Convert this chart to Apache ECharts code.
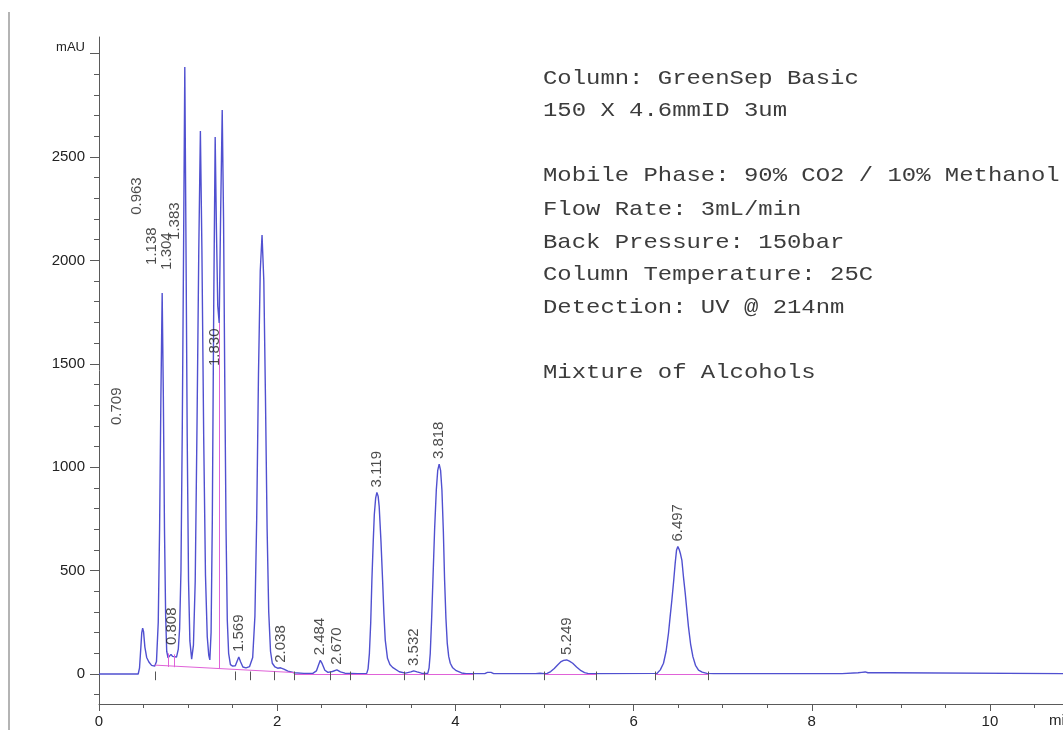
<!DOCTYPE html>
<html>
<head>
<meta charset="utf-8">
<title>Mixture of Alcohols – SFC chromatogram</title>
<script src="https://cdn.jsdelivr.net/npm/echarts@6/dist/echarts.min.js"></script>
<style>
  html, body { margin: 0; padding: 0; background: #ffffff; }
  #chart { width: 1063px; height: 730px; }
</style>
</head>
<body>
<div id="chart"></div>
<script>
// Detector trace, [retention time (min), signal (mAU)]; peak apexes come from the peak table below
const trace = [
  [0, 0], [0.44, 0], [0.455, 30], [0.47, 130], [0.48, 200], [0.49, 222], [0.50, 205], [0.515, 130],
  [0.535, 80], [0.56, 58], [0.59, 42], [0.625, 38], [0.645, 60],
  [0.665, 250], [0.68, 700], [0.695, 1350], [0.722, 1350], [0.735, 700], [0.748, 280], [0.76, 110], [0.775, 78],
  [0.79, 82], [0.825, 85], [0.845, 78], [0.87, 82], [0.89, 120], [0.905, 220],
  [0.92, 500], [0.935, 1200], [0.95, 2100], [0.976, 2100], [0.99, 1150], [1.005, 450], [1.02, 160], [1.04, 72],
  [1.06, 140], [1.08, 450], [1.10, 1200], [1.12, 2050], [1.155, 2050], [1.175, 1150], [1.195, 480],
  [1.215, 180], [1.232, 90], [1.244, 68],
  [1.258, 200], [1.272, 750], [1.288, 1800], [1.318, 2150], [1.333, 1780], [1.349, 1697], [1.366, 2250],
  [1.398, 2200], [1.412, 1400], [1.426, 700], [1.44, 260], [1.455, 100], [1.475, 45], [1.50, 38], [1.53, 40],
  [1.55, 62], [1.59, 58], [1.615, 34], [1.65, 30], [1.69, 36], [1.725, 80], [1.75, 280], [1.77, 750],
  [1.79, 1450], [1.81, 1950], [1.85, 1900], [1.868, 1350], [1.887, 700], [1.905, 300], [1.925, 110],
  [1.945, 52], [1.975, 34], [2.005, 28], [2.075, 24], [2.12, 14], [2.19, 6], [2.3, 3],
  [2.40, 3], [2.44, 15], [2.465, 45], [2.505, 50], [2.535, 18], [2.57, 8], [2.62, 12], [2.71, 10], [2.76, 4], [2.9, 2],
  [3.005, 3], [3.02, 25], [3.035, 100], [3.05, 250], [3.063, 455], [3.078, 640], [3.09, 770], [3.105, 850],
  [3.133, 860], [3.145, 809], [3.165, 640], [3.183, 455], [3.198, 290], [3.213, 164],
  [3.238, 76], [3.265, 46], [3.295, 32], [3.37, 11], [3.44, 4], [3.50, 10], [3.57, 10], [3.62, 4],
  [3.69, 3], [3.705, 30], [3.718, 100], [3.733, 260], [3.748, 455], [3.767, 700], [3.786, 890], [3.802, 985],
  [3.834, 985], [3.849, 890], [3.865, 690], [3.879, 455], [3.894, 270], [3.909, 148],
  [3.925, 85], [3.943, 52], [3.97, 30], [4.01, 16], [4.07, 5], [4.12, 2],
  [4.33, 2], [4.36, 8], [4.40, 8], [4.43, 2], [4.9, 2], [4.95, 4], [5.0, 2],
  [5.03, 3], [5.07, 12], [5.11, 27], [5.15, 45], [5.187, 60], [5.215, 66], [5.28, 62], [5.317, 52],
  [5.36, 34], [5.41, 16], [5.45, 7], [5.486, 3], [5.55, 2],
  [6.262, 3], [6.30, 20], [6.336, 52], [6.365, 110], [6.392, 197], [6.41, 275], [6.43, 358], [6.45, 450],
  [6.467, 535], [6.482, 598], [6.512, 602], [6.527, 580], [6.542, 551], [6.56, 470], [6.58, 390],
  [6.60, 300], [6.616, 229], [6.64, 145], [6.666, 84], [6.695, 42], [6.729, 19], [6.77, 9], [6.823, 3], [6.9, 2],
  [8.34, 2], [8.36, 6], [8.52, 6], [8.53, 10], [8.56, 8], [8.6, 10], [8.63, 6], [8.88, 6], [8.90, 2], [10.82, 2]
];

// Peak table: retention times (min) and apex heights (mAU)
const peakTimes   = [0.709, 0.808, 0.963, 1.138, 1.304, 1.383, 1.569, 1.830, 2.038, 2.484, 2.670, 3.119, 3.532, 3.818, 5.249, 6.497];
const peakHeights = [1842, 95, 2935, 2626, 2597, 2727, 82, 2123, 30, 66, 20, 878, 15, 1015, 68, 616];

// Crowded labels are moved off their peaks: [time, mAU] of the label's lower end
const labelMoves = {
  '0.709': [0.202, 1204],
  '0.808': [0.813, 140],
  '0.963': [0.426, 2220],
  '1.138': [0.594, 1978],
  '1.304': [0.762, 1954],
  '1.383': [0.852, 2099],
  '1.830': [1.302, 1489]
};

// Integration: peak start/end markers, baselines and drop lines
const integrationMarks = [0.628, 1.532, 1.693, 1.965, 2.19, 2.59, 2.82, 3.43, 3.655, 4.204, 5.0, 5.58, 6.244, 6.842];
const clusterBaseline = [[0.628, 43], [2.19, 7]];
const flatBaselines = [[2.19, 4.204], [5.0, 5.58], [6.244, 6.842]];
const dropLines = [[0.777, 34, 100], [0.841, 33, 95], [1.349, 24, 1697]];

// Axis ticks and labels
const xMajorTicks = [0, 2, 4, 6, 8, 10];
const xMinorTicks = [0.5, 1, 1.5, 2.5, 3, 3.5, 4.5, 5, 5.5, 6.5, 7, 7.5, 8.5, 9, 9.5, 10.5];
const yLabelValues = [0, 500, 1000, 1500, 2000, 2500];
const yMajorTicks = [0, 500, 1000, 1500, 2000, 2500, 3000];
const yMinorTicks = [-100, 100, 200, 300, 400, 600, 700, 800, 900, 1100, 1200, 1300, 1400, 1600, 1700, 1800, 1900,
                     2100, 2200, 2300, 2400, 2600, 2700, 2800, 2900];

// Method conditions printed on the chart (null = blank line)
const infoLines = [
  'Column: GreenSep Basic',
  '150 X 4.6mmID 3um',
  null,
  'Mobile Phase: 90% CO2 / 10% Methanol',
  'Flow Rate: 3mL/min',
  'Back Pressure: 150bar',
  'Column Temperature: 25C',
  'Detection: UV @ 214nm',
  null,
  'Mixture of Alcohols'
];
const infoRowY = [78.5, 110.5, null, 175.5, 209, 242, 274.5, 307, null, 372.5];

// ---- build series data ----
const apexPoints = peakTimes.map((t, i) => [t, peakHeights[i]]);
const fullTrace = trace.concat(apexPoints).sort((a, b) => a[0] - b[0]);

const labelData = peakTimes.map((t, i) => {
  const txt = t.toFixed(3);
  const moved = labelMoves[txt];
  return {
    value: moved ? moved : [t, peakHeights[i]],
    name: txt,
    label: { distance: moved ? 0 : 5 }
  };
});

const pinkLines = [];
pinkLines.push([{ coord: clusterBaseline[0] }, { coord: clusterBaseline[1] }]);
flatBaselines.forEach(b => pinkLines.push([{ coord: [b[0], -2] }, { coord: [b[1], -2] }]));
dropLines.forEach(d => pinkLines.push([{ coord: [d[0], d[1]] }, { coord: [d[0], d[2]] }]));

const markerLines = integrationMarks.map(t => [{ coord: [t, 12] }, { coord: [t, -30] }]);

const YMIN = -145, YMAX = 3080, XMAX = 10.82;
const axisGray = '#5a5a5a';
const sans = 'Liberation Sans, Arial, sans-serif';

const chart = echarts.init(document.getElementById('chart'), null, { renderer: 'canvas' });

const graphics = [
  { type: 'line', shape: { x1: 9, y1: 12, x2: 9, y2: 730 }, style: { stroke: '#b4b4b4', lineWidth: 2 }, silent: true },
  { type: 'text', x: 85, y: 47, style: { text: 'mAU', fill: '#222', font: '13px ' + sans, align: 'right', verticalAlign: 'middle' }, silent: true },
  { type: 'text', x: 1049, y: 721, style: { text: 'min', fill: '#222', font: '15px ' + sans, align: 'left', verticalAlign: 'middle' }, silent: true }
];
infoLines.forEach((line, i) => {
  if (line === null) return;
  graphics.push({
    type: 'text', x: 543, y: infoRowY[i], scaleX: 1.15, silent: true,
    style: { text: line, fill: '#3c3c3c', font: '20.8px "Liberation Mono", "DejaVu Sans Mono", monospace', align: 'left', verticalAlign: 'middle' }
  });
});

chart.setOption({
  animation: false,
  backgroundColor: '#ffffff',
  grid: { left: 99, right: 0, top: 37, bottom: 26, containLabel: false, outerBoundsMode: 'none' },
  xAxis: [
    {
      type: 'value', min: 0, max: XMAX, position: 'bottom',
      axisLine: { show: true, onZero: false, lineStyle: { color: axisGray, width: 1 } },
      axisTick: { show: true, length: 7, customValues: xMajorTicks, lineStyle: { color: axisGray } },
      axisLabel: { margin: 10, color: '#222', fontFamily: sans, fontSize: 15, customValues: xMajorTicks, formatter: v => String(v) },
      splitLine: { show: false }
    },
    {
      type: 'value', min: 0, max: XMAX, position: 'bottom',
      axisLine: { show: false, onZero: false },
      axisTick: { show: true, length: 4, customValues: xMinorTicks, lineStyle: { color: axisGray } },
      axisLabel: { show: false },
      splitLine: { show: false }
    }
  ],
  yAxis: [
    {
      type: 'value', min: YMIN, max: YMAX, position: 'left',
      axisLine: { show: true, onZero: false, lineStyle: { color: axisGray, width: 1 } },
      axisTick: { show: true, length: 9, customValues: yMajorTicks, lineStyle: { color: axisGray } },
      axisLabel: { margin: 14, color: '#222', fontFamily: sans, fontSize: 15, customValues: yLabelValues, formatter: v => String(v) },
      splitLine: { show: false }
    },
    {
      type: 'value', min: YMIN, max: YMAX, position: 'left',
      axisLine: { show: false, onZero: false },
      axisTick: { show: true, length: 5, customValues: yMinorTicks, lineStyle: { color: axisGray } },
      axisLabel: { show: false },
      splitLine: { show: false }
    }
  ],
  graphic: graphics,
  series: [
    {
      name: 'integration',
      type: 'line',
      data: [],
      silent: true,
      z: 1,
      markLine: {
        silent: true, symbol: 'none', animation: false,
        label: { show: false },
        lineStyle: { color: '#e062d8', width: 1, type: 'solid' },
        data: pinkLines
      }
    },
    {
      name: 'markers',
      type: 'line',
      data: [],
      silent: true,
      z: 3,
      markLine: {
        silent: true, symbol: 'none', animation: false,
        label: { show: false },
        lineStyle: { color: '#555', width: 1, type: 'solid' },
        data: markerLines
      }
    },
    {
      name: 'UV 214 nm',
      type: 'line',
      data: fullTrace,
      showSymbol: false,
      symbol: 'none',
      sampling: 'none',
      silent: true,
      z: 2,
      lineStyle: { color: '#5050d0', width: 1.4 }
    },
    {
      name: 'peak labels',
      type: 'scatter',
      data: labelData,
      symbolSize: 0,
      silent: true,
      z: 4,
      label: {
        show: true,
        position: 'top',
        rotate: 90,
        align: 'left',
        verticalAlign: 'middle',
        formatter: p => p.name,
        color: '#1e1e1e',
        fontFamily: sans,
        fontSize: 15
      }
    }
  ]
});
</script>
</body>
</html>
